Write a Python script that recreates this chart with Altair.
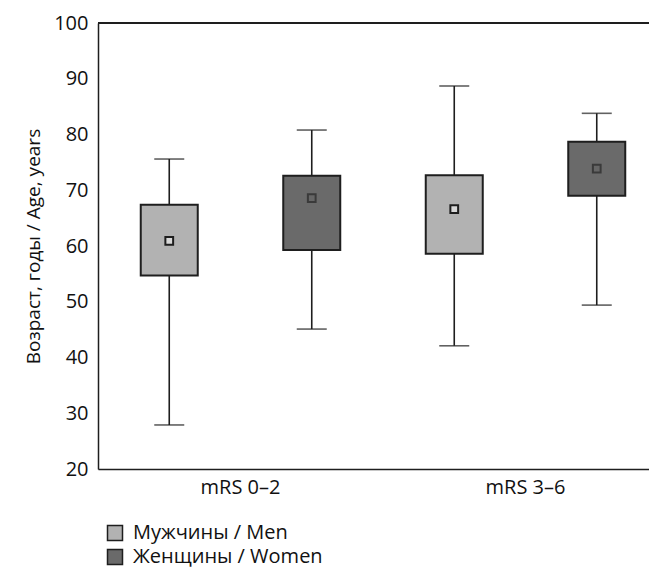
import altair as alt
import pandas as pd

MEN = "Мужчины / Men"
WOMEN = "Женщины / Women"

groups = ["mRS 0–2", "mRS 0–2", "mRS 3–6", "mRS 3–6"]
sexes = [MEN, WOMEN, MEN, WOMEN]
whisker_low = [27.9, 45.1, 42.1, 49.4]
q1 = [54.7, 59.3, 58.6, 69.0]
mean = [60.9, 68.6, 66.6, 73.9]
q3 = [67.4, 72.6, 72.7, 78.7]
whisker_high = [75.6, 80.8, 88.7, 83.8]

df = pd.DataFrame({
    "group": groups, "sex": sexes, "low": whisker_low, "q1": q1,
    "mean": mean, "q3": q3, "high": whisker_high,
})

FONT = "Open Sans"
LINE = "#1e1e1e"
TXT = "#111111"

x = alt.X("group:N", title=None,
          scale=alt.Scale(range=[0, 570], paddingInner=0, paddingOuter=0),
          axis=alt.Axis(labelAngle=0, ticks=False, labelPadding=8,
                        domainColor=LINE, domainWidth=1.5, labelFontSize=20,
                        labelColor=TXT, labelFont=FONT))
xo = alt.XOffset("sex:N", sort=[MEN, WOMEN],
                 scale=alt.Scale(paddingInner=0, paddingOuter=0))
yscale = alt.Scale(domain=[20, 100], nice=False, zero=False)
yaxis = alt.Axis(values=list(range(20, 101, 10)), ticks=False, grid=False,
                 labelPadding=10, labelFontSize=20, labelColor=TXT,
                 labelFont=FONT, domainColor=LINE, domainWidth=1.5,
                 title="Возраст, годы / Age, years", titleFontSize=19,
                 titleFont=FONT, titleFontWeight="normal", titleColor=TXT,
                 titlePadding=10)

base = alt.Chart(df)

whisk = base.mark_rule(color=LINE, strokeWidth=1.6).encode(
    x=x, xOffset=xo,
    y=alt.Y("low:Q", scale=yscale, axis=yaxis), y2="high:Q")

cap_lo = base.mark_tick(color=LINE, size=30, thickness=1.6, orient="horizontal").encode(
    x=x, xOffset=xo, y=alt.Y("low:Q", scale=yscale))
cap_hi = base.mark_tick(color=LINE, size=30, thickness=1.6, orient="horizontal").encode(
    x=x, xOffset=xo, y=alt.Y("high:Q", scale=yscale))

box = base.mark_bar(width=57, stroke=LINE, strokeWidth=2).encode(
    x=x, xOffset=xo,
    y=alt.Y("q1:Q", scale=yscale), y2="q3:Q",
    fill=alt.Fill("sex:N",
                  scale=alt.Scale(domain=[MEN, WOMEN], range=["#b2b2b2", "#6a6a6a"]),
                  legend=alt.Legend(title=None, orient="none", legendX=7, legendY=500,
                                    symbolType="square", symbolSize=225,
                                    symbolStrokeColor=LINE, symbolStrokeWidth=1.5,
                                    labelFontSize=20, labelFont=FONT, labelColor=TXT,
                                    labelLimit=400,
                                    labelOffset=8, rowPadding=2, direction="vertical")))

means = base.mark_point(shape="square", size=60, filled=True, strokeWidth=2).encode(
    x=x, xOffset=xo, y=alt.Y("mean:Q", scale=yscale),
    fill=alt.condition(alt.datum.sex == MEN, alt.value("#d8d8d8"), alt.value("#666666")),
    stroke=alt.condition(alt.datum.sex == MEN, alt.value("#1e1e1e"), alt.value("#3a3a3a")),
    opacity=alt.value(1))

top = alt.Chart(df).mark_rule(color=LINE, strokeWidth=1.5).encode(
    y=alt.datum(100), x=alt.value(0), x2=alt.value(600))

chart = alt.layer(whisk, cap_lo, cap_hi, box, means, top).properties(
    width=551, height=446,
    autosize=alt.AutoSizeParams(type="none"),
    padding={"left": 98, "top": 23, "right": 0, "bottom": 100},
).configure_view(stroke=None).configure(background="white")

chart.save("out.html", embed_options={"renderer": "svg", "actions": False})
